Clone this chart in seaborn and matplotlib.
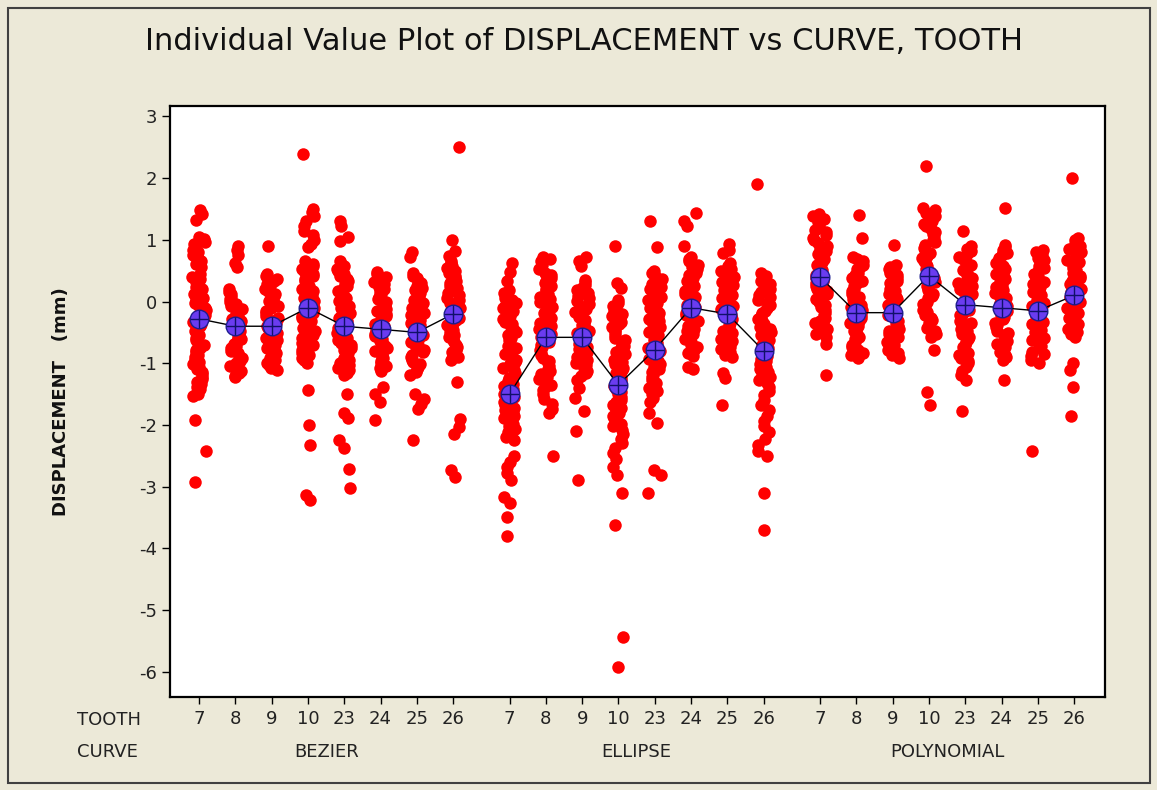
import numpy as np
import pandas as pd
import matplotlib
matplotlib.use("Agg")
import matplotlib.pyplot as plt
import matplotlib.transforms as mtrans
from matplotlib.patches import Rectangle
import seaborn as sns

# ---------------- data ----------------
curves = ["BEZIER", "ELLIPSE", "POLYNOMIAL"]
teeth = [7, 8, 9, 10, 23, 24, 25, 26]

bezier_7 = [1.48, 1.42, 1.32, 1.05, 1.01, 0.97, 0.93, 0.89, 0.84, 0.80, 0.76, 0.71, 0.66, 0.61, 0.56,
            0.44, 0.40, 0.36, 0.32, 0.28, 0.24, 0.21, 0.17, 0.13, 0.09, 0.05, 0.02, -0.02, -0.06, -0.10,
            -0.13, -0.17, -0.21, -0.25, -0.29, -0.33, -0.36, -0.40, -0.44, -0.48, -0.52, -0.55, -0.59,
            -0.63, -0.67, -0.71, -0.75, -0.78, -0.82, -0.86, -0.90, -0.94, -0.98, -1.02, -1.06, -1.10,
            -1.14, -1.18, -1.22, -1.26, -1.30, -1.34, -1.38, -1.42, -1.46, -1.50, -1.53, -1.92, -2.42,
            -2.92]
bezier_8 = [0.90, 0.84, 0.76, 0.62, 0.56, 0.20, 0.16, 0.12, 0.08, 0.04, 0.0, -0.04, -0.08, -0.12, -0.16,
            -0.20, -0.24, -0.28, -0.32, -0.36, -0.40, -0.44, -0.48, -0.52, -0.56, -0.60, -0.64, -0.68,
            -0.72, -0.76, -0.80, -0.84, -0.88, -0.92, -0.96, -1.00, -1.04, -1.08, -1.12, -1.16, -1.20,
            -1.23]
bezier_9 = [0.90, 0.45, 0.41, 0.37, 0.33, 0.29, 0.25, 0.21, 0.17, 0.13, 0.09, 0.05, 0.01, -0.03, -0.07,
            -0.11, -0.15, -0.19, -0.23, -0.27, -0.31, -0.35, -0.39, -0.43, -0.47, -0.51, -0.55, -0.59,
            -0.63, -0.67, -0.71, -0.75, -0.79, -0.83, -0.87, -0.91, -0.95, -0.99, -1.03, -1.07, -1.11]
bezier_10 = [2.40, 1.50, 1.45, 1.38, 1.30, 1.22, 1.15, 1.08, 1.00, 0.93, 0.88, 0.65, 0.61, 0.57, 0.53,
             0.49, 0.45, 0.41, 0.37, 0.33, 0.29, 0.25, 0.21, 0.17, 0.13, 0.09, 0.05, 0.01, -0.03, -0.07,
             -0.11, -0.15, -0.19, -0.23, -0.27, -0.31, -0.35, -0.39, -0.43, -0.47, -0.51, -0.55, -0.59,
             -0.63, -0.67, -0.71, -0.75, -0.79, -0.83, -0.87, -0.91, -0.95, -0.99, -1.43, -2.00, -2.33,
             -3.14, -3.22]
bezier_23 = [1.30, 1.22, 1.05, 0.98, 0.65, 0.61, 0.57, 0.53, 0.49, 0.45, 0.41, 0.37, 0.33, 0.29, 0.25,
             0.21, 0.17, 0.13, 0.09, 0.05, 0.01, -0.03, -0.07, -0.11, -0.15, -0.19, -0.23, -0.27, -0.31,
             -0.35, -0.39, -0.43, -0.47, -0.51, -0.55, -0.59, -0.63, -0.67, -0.71, -0.75, -0.79, -0.83,
             -0.87, -0.91, -0.95, -0.99, -1.03, -1.07, -1.11, -1.15, -1.19, -1.50, -1.80, -1.88, -2.25,
             -2.38, -2.72, -3.02]
bezier_24 = [0.48, 0.44, 0.40, 0.36, 0.32, 0.28, 0.24, 0.20, 0.16, 0.12, 0.08, 0.04, 0.0, -0.04, -0.08,
             -0.12, -0.16, -0.20, -0.24, -0.28, -0.32, -0.36, -0.40, -0.44, -0.48, -0.52, -0.56, -0.60,
             -0.64, -0.68, -0.72, -0.76, -0.80, -0.84, -0.88, -0.92, -0.96, -1.00, -1.04, -1.08, -1.12,
             -1.38, -1.50, -1.62, -1.92]
bezier_25 = [0.80, 0.72, 0.46, 0.42, 0.38, 0.34, 0.30, 0.26, 0.22, 0.18, 0.14, 0.10, 0.06, 0.02, -0.02,
             -0.06, -0.10, -0.14, -0.18, -0.22, -0.26, -0.30, -0.34, -0.38, -0.42, -0.46, -0.50, -0.54,
             -0.58, -0.62, -0.66, -0.70, -0.74, -0.78, -0.82, -0.86, -0.90, -0.94, -0.98, -1.02, -1.06,
             -1.10, -1.14, -1.19, -1.50, -1.58, -1.66, -1.74, -2.25]
bezier_26 = [2.50, 1.00, 0.82, 0.74, 0.66, 0.62, 0.58, 0.54, 0.50, 0.46, 0.42, 0.38, 0.34, 0.30, 0.26,
             0.22, 0.18, 0.14, 0.10, 0.06, 0.02, -0.02, -0.06, -0.10, -0.14, -0.18, -0.22, -0.26, -0.30,
             -0.34, -0.38, -0.42, -0.46, -0.50, -0.54, -0.58, -0.62, -0.66, -0.70, -0.74, -0.78, -0.82,
             -0.86, -0.90, -0.94, -1.30, -1.90, -2.03, -2.15, -2.73, -2.84]

ellipse_7 = [0.62, 0.48, 0.33, 0.18, 0.14, 0.10, 0.06, 0.02, -0.03, -0.07, -0.11, -0.16, -0.20, -0.24,
             -0.29, -0.33, -0.37, -0.42, -0.46, -0.50, -0.55, -0.59, -0.63, -0.68, -0.72, -0.76, -0.81,
             -0.85, -0.89, -0.94, -0.98, -1.02, -1.07, -1.11, -1.15, -1.20, -1.24, -1.28, -1.33, -1.37,
             -1.41, -1.46, -1.50, -1.54, -1.59, -1.63, -1.67, -1.72, -1.76, -1.80, -1.85, -1.89, -1.93,
             -1.98, -2.02, -2.06, -2.11, -2.15, -2.19, -2.24, -2.51, -2.60, -2.68, -2.78, -2.89, -3.16,
             -3.27, -3.49, -3.80]
ellipse_8 = [0.73, 0.69, 0.65, 0.60, 0.56, 0.52, 0.47, 0.43, 0.39, 0.34, 0.30, 0.26, 0.21, 0.17, 0.13,
             0.08, 0.04, 0.0, -0.05, -0.09, -0.13, -0.18, -0.22, -0.26, -0.31, -0.35, -0.39, -0.44,
             -0.48, -0.52, -0.57, -0.61, -0.65, -0.70, -0.74, -0.78, -0.83, -0.87, -0.91, -0.96, -1.00,
             -1.04, -1.09, -1.13, -1.17, -1.22, -1.26, -1.30, -1.35, -1.39, -1.43, -1.50, -1.58, -1.66,
             -1.74, -1.81, -2.51]
ellipse_9 = [0.73, 0.66, 0.58, 0.35, 0.31, 0.27, 0.22, 0.18, 0.14, 0.09, 0.05, 0.01, -0.04, -0.08,
             -0.12, -0.17, -0.21, -0.25, -0.30, -0.34, -0.38, -0.43, -0.47, -0.51, -0.56, -0.60, -0.64,
             -0.69, -0.73, -0.77, -0.82, -0.86, -0.90, -0.95, -0.99, -1.03, -1.08, -1.12, -1.16, -1.21,
             -1.27, -1.40, -1.57, -1.78, -2.10, -2.89]
ellipse_10 = [0.90, 0.30, 0.22, 0.02, -0.03, -0.07, -0.11, -0.16, -0.20, -0.24, -0.29, -0.33, -0.37,
              -0.42, -0.46, -0.50, -0.55, -0.59, -0.63, -0.68, -0.72, -0.76, -0.81, -0.85, -0.89, -0.94,
              -0.98, -1.02, -1.07, -1.11, -1.15, -1.20, -1.24, -1.28, -1.33, -1.37, -1.41, -1.46, -1.50,
              -1.54, -1.59, -1.63, -1.67, -1.72, -1.76, -1.80, -1.85, -1.89, -1.93, -1.98, -2.02, -2.08,
              -2.15, -2.22, -2.30, -2.38, -2.46, -2.55, -2.68, -2.81, -3.11, -3.62, -5.43, -5.92]
ellipse_23 = [1.30, 0.88, 0.50, 0.46, 0.42, 0.37, 0.33, 0.29, 0.24, 0.20, 0.16, 0.11, 0.07, 0.03, -0.02,
              -0.06, -0.10, -0.15, -0.19, -0.23, -0.28, -0.32, -0.36, -0.41, -0.45, -0.49, -0.54, -0.58,
              -0.62, -0.67, -0.71, -0.75, -0.80, -0.84, -0.88, -0.93, -0.97, -1.01, -1.06, -1.10, -1.14,
              -1.19, -1.23, -1.27, -1.32, -1.36, -1.40, -1.45, -1.50, -1.56, -1.62, -1.80, -1.97, -2.73,
              -2.81, -3.11]
ellipse_24 = [1.44, 1.30, 1.22, 0.90, 0.73, 0.69, 0.65, 0.60, 0.56, 0.52, 0.47, 0.43, 0.39, 0.34, 0.30,
              0.26, 0.21, 0.17, 0.13, 0.08, 0.04, 0.0, -0.05, -0.09, -0.13, -0.18, -0.22, -0.26, -0.31,
              -0.35, -0.39, -0.44, -0.48, -0.52, -0.57, -0.61, -0.65, -0.70, -0.74, -0.78, -0.83, -0.88,
              -1.06, -1.10]
ellipse_25 = [0.94, 0.84, 0.78, 0.62, 0.57, 0.53, 0.49, 0.44, 0.40, 0.36, 0.31, 0.27, 0.23, 0.18, 0.14,
              0.10, 0.05, 0.01, -0.03, -0.08, -0.12, -0.16, -0.21, -0.25, -0.29, -0.34, -0.38, -0.42,
              -0.47, -0.51, -0.55, -0.60, -0.64, -0.68, -0.73, -0.77, -0.81, -0.86, -0.90, -1.16, -1.24,
              -1.68]
ellipse_26 = [1.90, 0.46, 0.42, 0.37, 0.33, 0.29, 0.24, 0.20, 0.16, 0.11, 0.07, 0.03, -0.02, -0.06,
              -0.10, -0.15, -0.19, -0.23, -0.28, -0.32, -0.36, -0.41, -0.45, -0.49, -0.54, -0.58, -0.62,
              -0.67, -0.71, -0.75, -0.80, -0.84, -0.88, -0.93, -0.97, -1.01, -1.06, -1.10, -1.14, -1.19,
              -1.23, -1.27, -1.32, -1.38, -1.45, -1.52, -1.60, -1.68, -1.76, -1.85, -1.94, -2.02, -2.12,
              -2.22, -2.32, -2.42, -2.51, -3.11, -3.70]

polynomial_7 = [1.42, 1.38, 1.34, 1.29, 1.25, 1.21, 1.16, 1.12, 1.08, 1.03, 0.99, 0.95, 0.90, 0.86,
                0.82, 0.77, 0.73, 0.69, 0.64, 0.60, 0.56, 0.51, 0.47, 0.43, 0.38, 0.34, 0.30, 0.25, 0.21,
                0.17, 0.12, 0.08, 0.04, -0.01, -0.05, -0.09, -0.14, -0.18, -0.22, -0.27, -0.31, -0.35,
                -0.40, -0.44, -0.48, -0.53, -0.57, -0.68, -1.19]
polynomial_8 = [1.41, 1.03, 0.73, 0.69, 0.65, 0.60, 0.56, 0.52, 0.47, 0.43, 0.39, 0.34, 0.30, 0.26,
                0.21, 0.17, 0.13, 0.08, 0.04, 0.0, -0.05, -0.09, -0.13, -0.18, -0.22, -0.26, -0.31, -0.35,
                -0.39, -0.44, -0.48, -0.52, -0.57, -0.61, -0.65, -0.70, -0.74, -0.78, -0.83, -0.87, -0.92]
polynomial_9 = [0.92, 0.60, 0.56, 0.52, 0.47, 0.43, 0.39, 0.34, 0.30, 0.26, 0.21, 0.17, 0.13, 0.08,
                0.04, 0.0, -0.05, -0.09, -0.13, -0.18, -0.22, -0.26, -0.31, -0.35, -0.39, -0.44, -0.48,
                -0.52, -0.57, -0.61, -0.65, -0.70, -0.74, -0.78, -0.83, -0.87, -0.91]
polynomial_10 = [2.20, 1.52, 1.48, 1.43, 1.39, 1.35, 1.30, 1.26, 1.22, 1.17, 1.13, 1.09, 1.04, 1.00,
                 0.96, 0.91, 0.87, 0.83, 0.78, 0.74, 0.70, 0.65, 0.61, 0.57, 0.52, 0.48, 0.44, 0.39, 0.35,
                 0.31, 0.26, 0.22, 0.18, 0.13, 0.09, 0.05, 0.0, -0.04, -0.08, -0.13, -0.17, -0.21, -0.26,
                 -0.30, -0.34, -0.39, -0.43, -0.47, -0.52, -0.57, -0.78, -1.46, -1.68]
polynomial_23 = [1.14, 0.90, 0.86, 0.82, 0.77, 0.73, 0.69, 0.64, 0.60, 0.56, 0.51, 0.47, 0.43, 0.38,
                 0.34, 0.30, 0.25, 0.21, 0.17, 0.12, 0.08, 0.04, -0.01, -0.05, -0.09, -0.14, -0.18, -0.22,
                 -0.27, -0.31, -0.35, -0.40, -0.44, -0.48, -0.53, -0.57, -0.61, -0.66, -0.70, -0.74,
                 -0.79, -0.83, -0.87, -0.92, -0.96, -1.00, -1.06, -1.12, -1.19, -1.27, -1.78]
polynomial_24 = [1.51, 0.92, 0.88, 0.83, 0.79, 0.75, 0.70, 0.66, 0.62, 0.57, 0.53, 0.49, 0.44, 0.40,
                 0.36, 0.31, 0.27, 0.23, 0.18, 0.14, 0.10, 0.05, 0.01, -0.03, -0.08, -0.12, -0.16, -0.21,
                 -0.25, -0.29, -0.34, -0.38, -0.42, -0.47, -0.51, -0.55, -0.60, -0.64, -0.68, -0.73,
                 -0.77, -0.81, -0.86, -0.90, -0.95, -1.27]
polynomial_25 = [0.84, 0.80, 0.75, 0.71, 0.67, 0.62, 0.58, 0.54, 0.49, 0.45, 0.41, 0.36, 0.32, 0.28,
                 0.23, 0.19, 0.15, 0.10, 0.06, 0.02, -0.03, -0.07, -0.11, -0.16, -0.20, -0.24, -0.29,
                 -0.33, -0.37, -0.42, -0.46, -0.50, -0.55, -0.59, -0.63, -0.68, -0.72, -0.76, -0.81,
                 -0.85, -0.89, -0.94, -0.99, -2.42]
polynomial_26 = [2.00, 1.03, 0.99, 0.94, 0.90, 0.86, 0.81, 0.77, 0.73, 0.68, 0.64, 0.60, 0.55, 0.51,
                 0.47, 0.42, 0.38, 0.34, 0.29, 0.25, 0.21, 0.16, 0.12, 0.08, 0.03, -0.01, -0.05, -0.10,
                 -0.14, -0.18, -0.23, -0.27, -0.31, -0.36, -0.40, -0.44, -0.49, -0.53, -0.57, -1.00,
                 -1.11, -1.38, -1.86]

# group means (blue crosshair symbols)
bezier_means = [-0.28, -0.40, -0.40, -0.10, -0.40, -0.45, -0.50, -0.20]
ellipse_means = [-1.50, -0.58, -0.58, -1.35, -0.78, -0.10, -0.20, -0.80]
polynomial_means = [0.40, -0.18, -0.18, 0.42, -0.05, -0.10, -0.15, 0.10]

yticks = [3, 2, 1, 0, -1, -2, -3, -4, -5, -6]

# ---------------- assemble ----------------
groups = {
    "BEZIER": [bezier_7, bezier_8, bezier_9, bezier_10, bezier_23, bezier_24, bezier_25, bezier_26],
    "ELLIPSE": [ellipse_7, ellipse_8, ellipse_9, ellipse_10, ellipse_23, ellipse_24, ellipse_25, ellipse_26],
    "POLYNOMIAL": [polynomial_7, polynomial_8, polynomial_9, polynomial_10, polynomial_23,
                   polynomial_24, polynomial_25, polynomial_26],
}
means = {"BEZIER": bezier_means, "ELLIPSE": ellipse_means, "POLYNOMIAL": polynomial_means}

STRIDE = 8.55  # spacing between curve groups (in tooth slots)

rows = []
for gi, c in enumerate(curves):
    for ti, t in enumerate(teeth):
        for v in groups[c][ti]:
            rows.append({"CURVE": c, "TOOTH": t, "pos": gi * STRIDE + ti, "DISPLACEMENT": v})
df = pd.DataFrame(rows)

mrows = []
for gi, c in enumerate(curves):
    for ti, t in enumerate(teeth):
        mrows.append({"CURVE": c, "TOOTH": t, "pos": gi * STRIDE + ti, "mean": means[c][ti]})
mdf = pd.DataFrame(mrows)

# ---------------- plot ----------------
sns.set_theme(style="white")
plt.rcParams["font.family"] = ["DejaVu Sans"]

BG = "#ECE9D8"
fig = plt.figure(figsize=(11.57, 7.90), dpi=100, facecolor=BG)
ax = fig.add_axes([170 / 1157, 1 - 697 / 790, (1105 - 170) / 1157, (697 - 106) / 790])
ax.set_facecolor("white")

np.random.seed(3)
sns.stripplot(data=df, x="pos", y="DISPLACEMENT", native_scale=True, jitter=0.19,
              color="#FF0000", size=9.0, linewidth=0, ax=ax, zorder=2)

for c in curves:
    sub = mdf[mdf["CURVE"] == c]
    sns.lineplot(data=sub, x="pos", y="mean", color="black", lw=1.0, ax=ax,
                 sort=False, zorder=3, legend=False)
sns.scatterplot(data=mdf, x="pos", y="mean", marker="o", s=180, color="#6A3CF0",
                edgecolor="#1E1E90", linewidth=1.0, ax=ax, zorder=4, legend=False)
sns.scatterplot(data=mdf, x="pos", y="mean", marker="+", s=180, color="#10106A",
                linewidth=1.0, ax=ax, zorder=5, legend=False)

ax.set_xlim(-0.8, 2 * STRIDE + 7 + 0.85)
ax.set_ylim(-6.41, 3.17)
ax.set_yticks(yticks)
ax.set_yticklabels([str(v) for v in yticks])
ax.set_xticks(mdf["pos"].tolist())
ax.set_xticklabels([str(t) for t in mdf["TOOTH"]])
ax.tick_params(axis="both", which="major", direction="out", length=6, width=1.0,
               color="black", labelsize=13, labelcolor="#222222", pad=3)
ax.tick_params(axis="x", pad=4, length=5)
ax.tick_params(axis="y", left=True)
ax.tick_params(axis="x", bottom=True)
for s in ax.spines.values():
    s.set_color("black")
    s.set_linewidth(1.6)
ax.grid(False)
ax.set_xlabel("")
ax.set_ylabel("DISPLACEMENT   (mm)", fontsize=13, fontweight="bold", color="#111111", labelpad=50)

# group labels under tooth numbers
trans = mtrans.blended_transform_factory(ax.transData, ax.transAxes)
for gi, c in enumerate(curves):
    ax.text(gi * STRIDE + 3.5, (697 - 752) / 591, c, transform=trans, ha="center", va="center",
            fontsize=13, color="#222222")
fig.text(77 / 1157, 1 - 720 / 790, "TOOTH", ha="left", va="center", fontsize=13, color="#222222")
fig.text(77 / 1157, 1 - 752 / 790, "CURVE", ha="left", va="center", fontsize=13, color="#222222")

fig.text(584 / 1157, 1 - 41 / 790, "Individual Value Plot of DISPLACEMENT vs CURVE, TOOTH",
         ha="center", va="center", fontsize=22, color="#111111")

# outer frame
fig.patches.append(Rectangle((8 / 1157, 1 - 783 / 790), (1150 - 8) / 1157, (783 - 8) / 790,
                             transform=fig.transFigure, fill=False, edgecolor="#404040",
                             linewidth=1.5))

fig.savefig("out.png", dpi=100, facecolor=BG)
